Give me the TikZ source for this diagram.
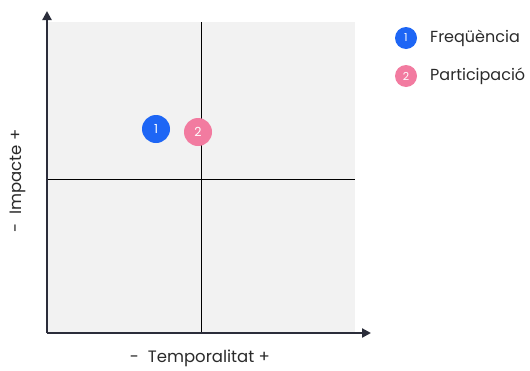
\documentclass[tikz,border=0pt]{standalone}
\usepackage{fontspec}
\setmainfont{Poppins}
\usetikzlibrary{arrows.meta}
\definecolor{axiscol}{HTML}{2B2D3A}
\definecolor{quadfill}{HTML}{F2F2F2}
\definecolor{bluedot}{HTML}{1E66F5}
\definecolor{pinkdot}{HTML}{F27BA0}
\definecolor{textcol}{HTML}{2A2A2A}
\tikzset{
  axis/.style={draw=axiscol, line width=2.2pt, -{Triangle[length=9pt,width=9pt]}},
  divider/.style={draw=black, line width=0.9pt},
  dot/.style={circle, minimum size=#1, inner sep=0pt, text=white},
  bigdot/.style={dot=28pt, font=\fontsize{12.5}{14}\selectfont},
  smalldot/.style={dot=22pt, font=\fontsize{11}{13}\selectfont},
  legtext/.style={anchor=west, text=textcol, font=\fontsize{16}{19}\selectfont, inner sep=0pt},
  axlabel/.style={text=textcol, font=\fontsize{16.5}{19}\selectfont, inner sep=0pt}
}
\begin{document}
\begin{tikzpicture}[x=1pt,y=-1pt]
\useasboundingbox (0,0) rectangle (530,370);
\fill[quadfill] (47,22) rectangle (355,333);
\coordinate (vt) at (201,22);
\coordinate (vb) at (201,333);
\coordinate (hl) at (47,179);
\coordinate (hr) at (355,179);
\draw[divider] (vt) -- (vb);
\draw[divider] (hl) -- (hr);
\coordinate (origin) at (47,333);
\coordinate (ytip) at (47,11);
\coordinate (xtip) at (371,333);
\draw[axis] (origin) -- (ytip);
\draw[axis] (origin) -- (xtip);
\node[bigdot, fill=bluedot] (p1) at (156,129) {1};
\node[bigdot, fill=pinkdot] (p2) at (198,132) {2};
\node[smalldot, fill=bluedot] (l1) at (406,38) {1};
\node[smalldot, fill=pinkdot] (l2) at (406,76) {2};
\node[legtext] (t1) at (430,38) {Freqüència};
\node[legtext] (t2) at (430,76) {Participació};
\node[axlabel, rotate=90] (ylab) at (18,181) {-\ \ Impacte +};
\node[axlabel] (xlab) at (200,358) {-\ \ Temporalitat +};
\end{tikzpicture}
\end{document}
